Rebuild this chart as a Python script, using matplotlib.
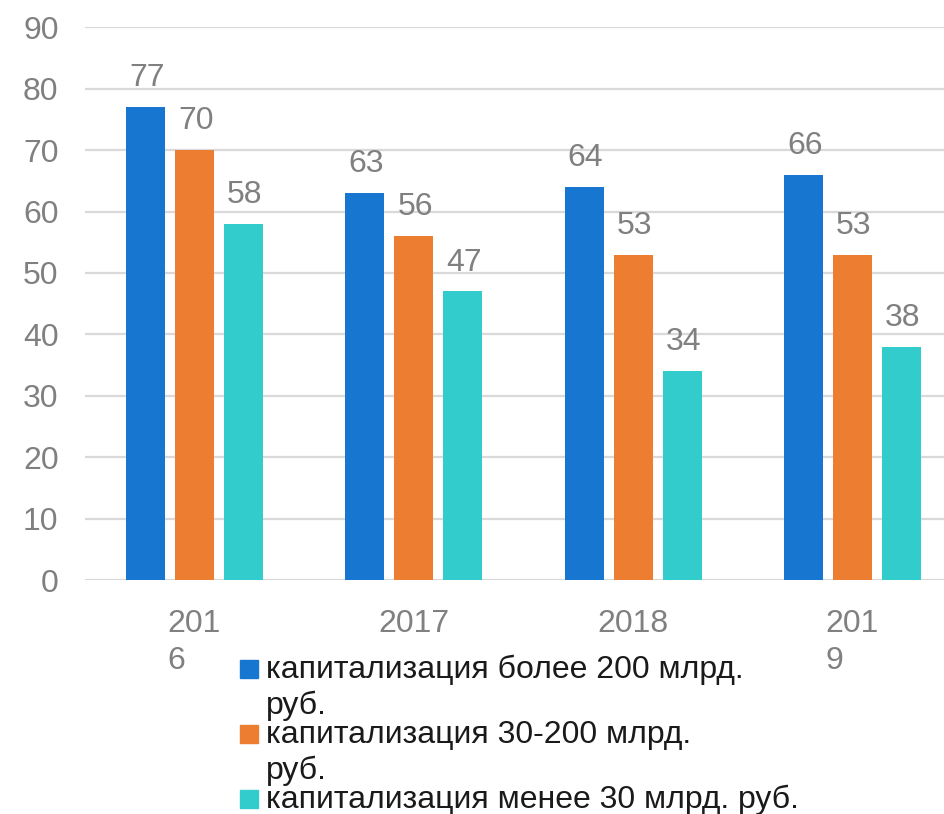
import numpy as np
import matplotlib.pyplot as plt
from matplotlib.patches import Rectangle

plt.rcParams['font.family'] = ['Liberation Sans', 'DejaVu Sans']

years = ['201\n6', '2017', '2018', '201\n9']
big = [77, 63, 64, 66]
mid = [70, 56, 53, 53]
small = [58, 47, 34, 38]
series = [big, mid, small]
labels = ['капитализация более 200 млрд.\nруб.',
          'капитализация 30-200 млрд.\nруб.',
          'капитализация менее 30 млрд. руб.']
colors = ['#1777D0', '#ED7D31', '#33CCCC']

W, H = 944, 814
fig = plt.figure(figsize=(W / 100, H / 100), dpi=100)
ax = fig.add_axes([85 / W, 234 / H, 1 - 85 / W, (580 - 27.3) / H])

x = np.arange(len(years))
step = 0.2234
width = 0.178
gray = '#808080'
fs = 23
for i, (vals, c) in enumerate(zip(series, colors)):
    xs = x + (i - 1) * step
    bars = ax.bar(xs, vals, width, color=c, zorder=3)
    for xi, v in zip(xs, vals):
        ax.annotate(str(v), (xi, v), xytext=(1, 15), textcoords='offset points',
                    ha='center', va='baseline', fontsize=fs, color=gray)

ax.set_xlim(-0.499, 3.417)
ax.set_ylim(0, 90)
ax.set_yticks(range(0, 91, 10))
ax.set_xticks(x)
ax.set_xticklabels(years, multialignment='left', linespacing=1.3)
ax.tick_params(axis='y', length=0, pad=19, labelsize=fs, labelcolor=gray)
ax.tick_params(axis='x', length=0, pad=21, labelsize=fs, labelcolor=gray)
ax.grid(axis='y', color='#d9d9d9', linewidth=1.6, zorder=0)
for s in ax.spines.values():
    s.set_visible(False)

# legend under the chart (first line aligned with the marker)
rows = [678, 743, 808]
for lab, c, y in zip(labels, colors, rows):
    fig.patches.append(Rectangle((240 / W, 1 - y / H), 18 / W, 18 / H,
                                 transform=fig.transFigure, color=c))
    for k, line in enumerate(lab.split('\n')):
        fig.text(266 / W, 1 - (y + 36 * k) / H, line, fontsize=fs,
                 color='#1a1a1a', va='baseline', ha='left')

fig.savefig('out.png', dpi=100)
